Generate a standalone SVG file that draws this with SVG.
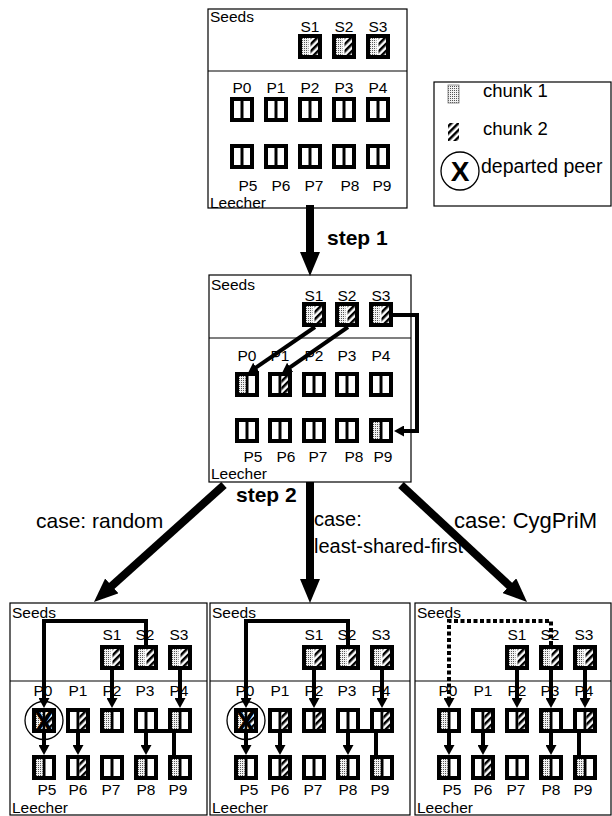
<svg xmlns="http://www.w3.org/2000/svg" xmlns:xlink="http://www.w3.org/1999/xlink" width="612" height="816" viewBox="0 0 612 816">
<style>
.t{font-family:"Liberation Sans",Arial,Helvetica,sans-serif;fill:#000}
.lab{font-size:15.5px}
.c{text-anchor:middle}
.leg{font-size:18.5px}
.case{font-size:20px}
.step{font-size:21px;font-weight:bold}
.frame{fill:#fff;stroke:#000;stroke-width:1.2}
.sep{stroke:#000;stroke-width:1.2}
.flow{fill:none;stroke:#000;stroke-width:4}
.dash{stroke-dasharray:4 2.5}
.big{fill:none;stroke:#000;stroke-width:8}
.ring{fill:none;stroke:#000;stroke-width:1.3}
.xm{font-family:"Liberation Sans",Arial,sans-serif;font-weight:bold;text-anchor:middle;fill:#000}
</style>
<defs>
  <pattern id="dots" width="2" height="2" patternUnits="userSpaceOnUse">
    <rect width="2" height="2" fill="#f2f2f2"/>
    <rect width="1" height="1" fill="#555"/>
  </pattern>
  <pattern id="hatch" width="5" height="5" patternUnits="userSpaceOnUse" patternTransform="rotate(45)">
    <rect width="5" height="5" fill="#fff"/>
    <rect width="2.5" height="5" fill="#000"/>
  </pattern>
  <!-- empty peer: two cells in a heavy frame -->
  <g id="peer">
    <rect x="2" y="2" width="20" height="21" fill="#fff" stroke="#000" stroke-width="4"/>
    <line x1="12" y1="2" x2="12" y2="23" stroke="#000" stroke-width="3"/>
  </g>
  <rect id="ch1" x="4" y="4" width="6.5" height="17" fill="url(#dots)"/>
  <rect id="ch2" x="13.5" y="4" width="6.5" height="17" fill="url(#hatch)"/>
  <!-- seed holding both chunks -->
  <g id="seed">
    <rect x="2" y="2" width="20" height="21" fill="#fff" stroke="#000" stroke-width="4"/>
    <rect x="4" y="4" width="6.5" height="17" fill="url(#dots)"/>
    <rect x="12.5" y="4" width="7.5" height="17" fill="url(#hatch)"/>
  </g>
  <!-- departed peer: both chunks crossed out -->
  <g id="gone">
    <use xlink:href="#peer"/>
    <use xlink:href="#ch1"/>
    <use xlink:href="#ch2"/>
    <text class="xm" x="12" y="23.5" font-size="29">X</text>
  </g>
  <marker id="ah" markerUnits="userSpaceOnUse" markerWidth="11" markerHeight="11" refX="6" refY="5.5" orient="auto">
    <path d="M0,0 L10,5.5 L0,11 z" fill="#000"/>
  </marker>
  <marker id="bigah" markerUnits="userSpaceOnUse" markerWidth="24" markerHeight="20" refX="14" refY="10" orient="auto">
    <path d="M0,0 L24,10 L0,20 z" fill="#000"/>
  </marker>
</defs>
<rect width="612" height="816" fill="#fff"/>

<!-- legend -->
<g id="legend">
  <rect x="434" y="82" width="177" height="124" fill="#fff" stroke="#000" stroke-width="1.2"/>
  <rect x="448" y="85" width="11" height="18" fill="url(#dots)" stroke="#777" stroke-width="0.8"/>
  <text class="t leg" x="483" y="97">chunk 1</text>
  <rect x="448" y="123" width="11" height="18" fill="url(#hatch)"/>
  <text class="t leg" x="483" y="135">chunk 2</text>
  <circle class="ring" cx="460" cy="171" r="19"/>
  <text class="xm" x="460" y="181" font-size="28">X</text>
  <text class="t" x="481" y="173" font-size="19.5">departed peer</text>
</g>

<!-- initial state -->
<g id="panel-start">
  <rect class="frame" x="208" y="9" width="199" height="199"/>
  <line class="sep" x1="208" y1="71" x2="407" y2="71"/>
  <text class="t lab" x="210" y="22">Seeds</text>
  <text class="t lab" x="210" y="208">Leecher</text>
  <g class="t lab c">
    <text x="310" y="32">S1</text><text x="344" y="32">S2</text><text x="378" y="32">S3</text>
    <text x="242" y="93">P0</text><text x="276" y="93">P1</text><text x="310" y="93">P2</text><text x="344" y="93">P3</text><text x="378" y="93">P4</text>
    <text x="248" y="190.5">P5</text><text x="281" y="190.5">P6</text><text x="314" y="190.5">P7</text><text x="350" y="190.5">P8</text><text x="382" y="190.5">P9</text>
  </g>
  <g id="a-S1" transform="translate(298,34)"><use xlink:href="#seed"/></g>
  <g id="a-S2" transform="translate(332,34)"><use xlink:href="#seed"/></g>
  <g id="a-S3" transform="translate(366,34)"><use xlink:href="#seed"/></g>
  <g id="a-P0" transform="translate(230,97)"><use xlink:href="#peer"/></g>
  <g id="a-P1" transform="translate(264,97)"><use xlink:href="#peer"/></g>
  <g id="a-P2" transform="translate(298,97)"><use xlink:href="#peer"/></g>
  <g id="a-P3" transform="translate(332,97)"><use xlink:href="#peer"/></g>
  <g id="a-P4" transform="translate(366,97)"><use xlink:href="#peer"/></g>
  <g id="a-P5" transform="translate(230,144)"><use xlink:href="#peer"/></g>
  <g id="a-P6" transform="translate(264,144)"><use xlink:href="#peer"/></g>
  <g id="a-P7" transform="translate(298,144)"><use xlink:href="#peer"/></g>
  <g id="a-P8" transform="translate(332,144)"><use xlink:href="#peer"/></g>
  <g id="a-P9" transform="translate(366,144)"><use xlink:href="#peer"/></g>
</g>

<!-- after step 1 -->
<g id="panel-step1">
  <rect class="frame" x="209" y="275" width="202" height="207"/>
  <line class="sep" x1="209" y1="338" x2="411" y2="338"/>
  <text class="t lab" x="211" y="290">Seeds</text>
  <text class="t lab" x="211" y="479">Leecher</text>
  <g class="t lab c">
    <text x="314" y="301">S1</text><text x="347" y="301">S2</text><text x="381" y="301">S3</text>
    <text x="247" y="361">P0</text><text x="280" y="361">P1</text><text x="314" y="361">P2</text><text x="347" y="361">P3</text><text x="381" y="361">P4</text>
    <text x="253" y="461.5">P5</text><text x="286" y="461.5">P6</text><text x="318" y="461.5">P7</text><text x="354" y="461.5">P8</text><text x="383" y="461.5">P9</text>
  </g>
  <g id="b-S1" transform="translate(302,302)"><use xlink:href="#seed"/></g>
  <g id="b-S2" transform="translate(335,302)"><use xlink:href="#seed"/></g>
  <g id="b-S3" transform="translate(369,302)"><use xlink:href="#seed"/></g>
  <g id="b-P0" transform="translate(235,372)"><use xlink:href="#peer"/><use xlink:href="#ch1"/></g>
  <g id="b-P1" transform="translate(268,372)"><use xlink:href="#peer"/><use xlink:href="#ch2"/></g>
  <g id="b-P2" transform="translate(302,372)"><use xlink:href="#peer"/></g>
  <g id="b-P3" transform="translate(335,372)"><use xlink:href="#peer"/></g>
  <g id="b-P4" transform="translate(369,372)"><use xlink:href="#peer"/></g>
  <g id="b-P5" transform="translate(235,418)"><use xlink:href="#peer"/></g>
  <g id="b-P6" transform="translate(268,418)"><use xlink:href="#peer"/></g>
  <g id="b-P7" transform="translate(302,418)"><use xlink:href="#peer"/></g>
  <g id="b-P8" transform="translate(335,418)"><use xlink:href="#peer"/></g>
  <g id="b-P9" transform="translate(369,418)"><use xlink:href="#peer"/><use xlink:href="#ch1"/></g>
</g>

<!-- step 2, random -->
<g id="panel-random">
  <rect class="frame" x="10" y="603" width="197" height="212"/>
  <line class="sep" x1="10" y1="681" x2="207" y2="681"/>
  <text class="t lab" x="12" y="618">Seeds</text>
  <text class="t lab" x="12" y="813">Leecher</text>
  <g class="t lab c">
    <text x="112" y="640">S1</text><text x="145" y="640">S2</text><text x="179" y="640">S3</text>
    <text x="43" y="696">P0</text><text x="78" y="696">P1</text><text x="112" y="696">P2</text><text x="145" y="696">P3</text><text x="179" y="696">P4</text>
    <text x="47" y="795">P5</text><text x="78" y="795">P6</text><text x="111" y="795">P7</text><text x="146" y="795">P8</text><text x="178" y="795">P9</text>
  </g>
  <g id="c-S1" transform="translate(100,645)"><use xlink:href="#seed"/></g>
  <g id="c-S2" transform="translate(134,645)"><use xlink:href="#seed"/></g>
  <g id="c-S3" transform="translate(168,645)"><use xlink:href="#seed"/></g>
  <g id="c-P0" transform="translate(32,708)"><use xlink:href="#gone"/><circle class="ring" cx="12" cy="12.5" r="19"/></g>
  <g id="c-P1" transform="translate(66,708)"><use xlink:href="#peer"/><use xlink:href="#ch2"/></g>
  <g id="c-P2" transform="translate(100,708)"><use xlink:href="#peer"/><use xlink:href="#ch1"/></g>
  <g id="c-P3" transform="translate(134,708)"><use xlink:href="#peer"/></g>
  <g id="c-P4" transform="translate(168,708)"><use xlink:href="#peer"/><use xlink:href="#ch1"/></g>
  <g id="c-P5" transform="translate(32,755)"><use xlink:href="#peer"/><use xlink:href="#ch1"/></g>
  <g id="c-P6" transform="translate(66,755)"><use xlink:href="#peer"/><use xlink:href="#ch2"/></g>
  <g id="c-P7" transform="translate(100,755)"><use xlink:href="#peer"/></g>
  <g id="c-P8" transform="translate(134,755)"><use xlink:href="#peer"/><use xlink:href="#ch1"/></g>
  <g id="c-P9" transform="translate(168,755)"><use xlink:href="#peer"/><use xlink:href="#ch1"/></g>
</g>

<!-- step 2, least-shared-first -->
<g id="panel-lsf">
  <rect class="frame" x="210" y="603" width="200" height="212"/>
  <line class="sep" x1="210" y1="681" x2="410" y2="681"/>
  <text class="t lab" x="212" y="618">Seeds</text>
  <text class="t lab" x="212" y="813">Leecher</text>
  <g class="t lab c">
    <text x="314" y="640">S1</text><text x="347" y="640">S2</text><text x="381" y="640">S3</text>
    <text x="245" y="696">P0</text><text x="280" y="696">P1</text><text x="314" y="696">P2</text><text x="347" y="696">P3</text><text x="381" y="696">P4</text>
    <text x="249" y="795">P5</text><text x="280" y="795">P6</text><text x="313" y="795">P7</text><text x="348" y="795">P8</text><text x="380" y="795">P9</text>
  </g>
  <g id="d-S1" transform="translate(302,645)"><use xlink:href="#seed"/></g>
  <g id="d-S2" transform="translate(336,645)"><use xlink:href="#seed"/></g>
  <g id="d-S3" transform="translate(370,645)"><use xlink:href="#seed"/></g>
  <g id="d-P0" transform="translate(234,708)"><use xlink:href="#gone"/><circle class="ring" cx="12" cy="12.5" r="19"/></g>
  <g id="d-P1" transform="translate(268,708)"><use xlink:href="#peer"/><use xlink:href="#ch2"/></g>
  <g id="d-P2" transform="translate(302,708)"><use xlink:href="#peer"/><use xlink:href="#ch2"/></g>
  <g id="d-P3" transform="translate(336,708)"><use xlink:href="#peer"/></g>
  <g id="d-P4" transform="translate(370,708)"><use xlink:href="#peer"/><use xlink:href="#ch2"/></g>
  <g id="d-P5" transform="translate(234,755)"><use xlink:href="#peer"/><use xlink:href="#ch1"/></g>
  <g id="d-P6" transform="translate(268,755)"><use xlink:href="#peer"/><use xlink:href="#ch2"/></g>
  <g id="d-P7" transform="translate(302,755)"><use xlink:href="#peer"/></g>
  <g id="d-P8" transform="translate(336,755)"><use xlink:href="#peer"/><use xlink:href="#ch1"/></g>
  <g id="d-P9" transform="translate(370,755)"><use xlink:href="#peer"/><use xlink:href="#ch1"/></g>
</g>

<!-- step 2, CygPriM -->
<g id="panel-cygprim">
  <rect class="frame" x="415" y="603" width="196" height="212"/>
  <line class="sep" x1="415" y1="681" x2="611" y2="681"/>
  <text class="t lab" x="417" y="618">Seeds</text>
  <text class="t lab" x="417" y="813">Leecher</text>
  <g class="t lab c">
    <text x="517" y="640">S1</text><text x="550" y="640">S2</text><text x="584" y="640">S3</text>
    <text x="448" y="696">P0</text><text x="483" y="696">P1</text><text x="517" y="696">P2</text><text x="550" y="696">P3</text><text x="584" y="696">P4</text>
    <text x="452" y="795">P5</text><text x="483" y="795">P6</text><text x="516" y="795">P7</text><text x="551" y="795">P8</text><text x="583" y="795">P9</text>
  </g>
  <g id="e-S1" transform="translate(505,645)"><use xlink:href="#seed"/></g>
  <g id="e-S2" transform="translate(539,645)"><use xlink:href="#seed"/></g>
  <g id="e-S3" transform="translate(573,645)"><use xlink:href="#seed"/></g>
  <g id="e-P0" transform="translate(437,708)"><use xlink:href="#peer"/><use xlink:href="#ch1"/></g>
  <g id="e-P1" transform="translate(471,708)"><use xlink:href="#peer"/><use xlink:href="#ch2"/></g>
  <g id="e-P2" transform="translate(505,708)"><use xlink:href="#peer"/><use xlink:href="#ch2"/></g>
  <g id="e-P3" transform="translate(539,708)"><use xlink:href="#peer"/><use xlink:href="#ch1"/></g>
  <g id="e-P4" transform="translate(573,708)"><use xlink:href="#peer"/><use xlink:href="#ch2"/></g>
  <g id="e-P5" transform="translate(437,755)"><use xlink:href="#peer"/><use xlink:href="#ch1"/></g>
  <g id="e-P6" transform="translate(471,755)"><use xlink:href="#peer"/><use xlink:href="#ch2"/></g>
  <g id="e-P7" transform="translate(505,755)"><use xlink:href="#peer"/></g>
  <g id="e-P8" transform="translate(539,755)"><use xlink:href="#peer"/><use xlink:href="#ch1"/></g>
  <g id="e-P9" transform="translate(573,755)"><use xlink:href="#peer"/><use xlink:href="#ch1"/></g>
</g>

<!-- step labels -->
<g id="captions">
  <text class="t step" x="327" y="245">step 1</text>
  <text class="t step" x="236" y="502">step 2</text>
  <text class="t" x="36" y="528" font-size="21">case: random</text>
  <text class="t case" x="314" y="526">case:</text>
  <text class="t case" x="314" y="553">least-shared-first</text>
  <text class="t" x="454" y="528" font-size="22">case: CygPriM</text>
</g>

<!-- connectors -->
<g id="connectors">
  <!-- between stages -->
  <path class="big" d="M310,205 V266" marker-end="url(#bigah)"/>
  <path class="big" d="M224,485 L101.4,595.3" marker-end="url(#bigah)"/>
  <path class="big" d="M310,482 V593" marker-end="url(#bigah)"/>
  <path class="big" d="M401,485 L519.7,595.2" marker-end="url(#bigah)"/>

  <!-- step 1 transfers -->
  <path class="flow" d="M315,327 L251.3,370.7" marker-end="url(#ah)"/>
  <path class="flow" d="M348,327 L285.3,370.7" marker-end="url(#ah)"/>
  <path class="flow" d="M393,315 H417 V431 H398" marker-end="url(#ah)"/>

  <!-- random -->
  <path class="flow" d="M146,645 V621 H44 V704" marker-end="url(#ah)"/>
  <path class="flow" d="M112,670 V704" marker-end="url(#ah)"/>
  <path class="flow" d="M180,670 V704" marker-end="url(#ah)"/>
  <path class="flow" d="M44,733 V751" marker-end="url(#ah)"/>
  <path class="flow" d="M78,733 V751" marker-end="url(#ah)"/>
  <path class="flow" d="M146,731 H174 V756"/>
  <path class="flow" d="M146,731 V751" marker-end="url(#ah)"/>

  <!-- least-shared-first -->
  <path class="flow" d="M348,645 V621 H246 V704" marker-end="url(#ah)"/>
  <path class="flow" d="M314,670 V704" marker-end="url(#ah)"/>
  <path class="flow" d="M382,670 V704" marker-end="url(#ah)"/>
  <path class="flow" d="M246,733 V751" marker-end="url(#ah)"/>
  <path class="flow" d="M280,733 V751" marker-end="url(#ah)"/>
  <path class="flow" d="M348,731 H376 V756"/>
  <path class="flow" d="M348,731 V751" marker-end="url(#ah)"/>

  <!-- CygPriM -->
  <path class="flow dash" d="M551,645 V621 H449 V704" marker-end="url(#ah)"/>
  <path class="flow" d="M517,670 V704" marker-end="url(#ah)"/>
  <path class="flow" d="M551,670 V704" marker-end="url(#ah)"/>
  <path class="flow" d="M585,670 V704" marker-end="url(#ah)"/>
  <path class="flow" d="M449,733 V751" marker-end="url(#ah)"/>
  <path class="flow" d="M483,733 V751" marker-end="url(#ah)"/>
  <path class="flow" d="M551,731 H579 V756"/>
  <path class="flow" d="M551,731 V751" marker-end="url(#ah)"/>
</g>
</svg>
